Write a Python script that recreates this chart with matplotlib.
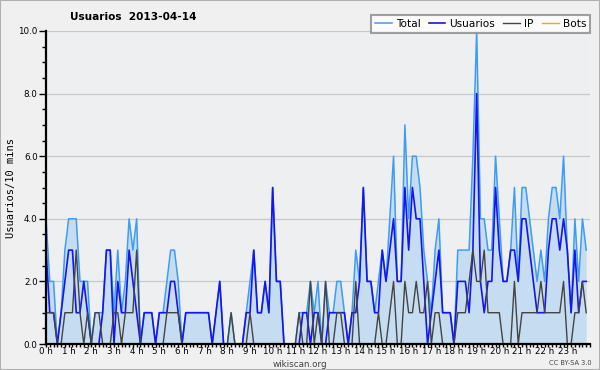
import matplotlib
matplotlib.use("Agg")
import matplotlib.pyplot as plt
import numpy as np

hours = [f"{h} h" for h in range(24)]

total = [4, 2, 2, 0, 1, 3, 4, 4, 4, 2, 2, 2, 0, 1, 1, 1, 3, 3, 1, 3, 1, 2, 4, 3,
         4, 0, 1, 1, 1, 0, 1, 1, 2, 3, 3, 2, 0, 1, 1, 1, 1, 1, 1, 1, 0, 1, 2, 0,
         0, 1, 0, 0, 0, 1, 2, 3, 1, 1, 2, 1, 5, 2, 2, 0, 0, 0, 0, 1, 1, 1, 2, 1,
         2, 0, 2, 1, 1, 2, 2, 1, 0, 1, 3, 2, 5, 2, 2, 1, 2, 3, 2, 4, 6, 2, 2, 7,
         4, 6, 6, 5, 3, 2, 1, 3, 4, 1, 1, 1, 0, 3, 3, 3, 3, 6, 10, 4, 4, 3, 3, 6,
         4, 2, 2, 3, 5, 2, 5, 5, 4, 3, 2, 3, 2, 4, 5, 5, 4, 6, 3, 1, 4, 2, 4, 3]
usuarios = [3, 1, 1, 0, 1, 2, 3, 3, 1, 1, 2, 1, 0, 0, 0, 1, 3, 3, 0, 2, 1, 1, 3, 2,
            1, 0, 1, 1, 1, 0, 1, 1, 1, 2, 2, 1, 0, 1, 1, 1, 1, 1, 1, 1, 0, 1, 2, 0,
            0, 0, 0, 0, 0, 1, 1, 3, 1, 1, 2, 1, 5, 2, 2, 0, 0, 0, 0, 0, 1, 1, 0, 1,
            1, 0, 0, 1, 1, 1, 1, 1, 0, 1, 1, 2, 5, 2, 2, 1, 1, 3, 2, 3, 4, 2, 2, 5,
            3, 5, 4, 4, 2, 0, 1, 2, 3, 1, 1, 1, 0, 2, 2, 2, 1, 3, 8, 2, 1, 2, 2, 5,
            3, 2, 2, 3, 3, 2, 4, 4, 3, 2, 1, 1, 1, 3, 4, 4, 3, 4, 3, 1, 3, 1, 2, 2]
ip = [1, 1, 1, 0, 0, 1, 1, 1, 3, 1, 0, 1, 0, 1, 1, 0, 0, 0, 1, 1, 0, 1, 1, 1,
      3, 0, 0, 0, 0, 0, 0, 0, 1, 1, 1, 1, 0, 0, 0, 0, 0, 0, 0, 0, 0, 0, 0, 0,
      0, 1, 0, 0, 0, 0, 1, 0, 0, 0, 0, 0, 0, 0, 0, 0, 0, 0, 0, 1, 0, 0, 2, 0,
      1, 0, 2, 0, 0, 1, 1, 0, 0, 0, 2, 0, 0, 0, 0, 0, 1, 0, 0, 1, 2, 0, 0, 2,
      1, 1, 2, 1, 1, 2, 0, 1, 1, 0, 0, 0, 0, 1, 1, 1, 2, 3, 2, 2, 3, 1, 1, 1,
      1, 0, 0, 0, 2, 0, 1, 1, 1, 1, 1, 2, 1, 1, 1, 1, 1, 2, 0, 0, 1, 1, 2, 1]
bots = [0] * 144

x = np.arange(len(total))

fig = plt.figure(figsize=(6.0, 3.7), dpi=100, facecolor="#f0f0f0")
ax = fig.add_axes([46/600, 1-344/370, 544/600, 313/370])
ax.set_facecolor("#eeeff1")

ax.fill_between(x, total, 0, color="#c6dcf0", lw=0, zorder=1)
ax.plot(x, total, color="#3d9cf5", lw=1.1, label="Total", zorder=3)
ax.plot(x, usuarios, color="#1515f0", lw=1.2, label="Usuarios", zorder=4)
ax.plot(x, ip, color="#444444", lw=1.0, label="IP", zorder=5)
ax.plot(x, bots, color="#ffa01a", lw=1.0, label="Bots", zorder=2)

ax.set_xlim(0, 144)
ax.set_ylim(0, 10)
ax.set_yticks(np.arange(0, 10.1, 2))
ax.set_yticklabels([f"{v:.1f}" for v in np.arange(0, 10.1, 2)])
ax.set_yticks(np.arange(0, 10.01, 0.5), minor=True)
ax.set_xticks(np.arange(0, 144, 6))
ax.set_xticklabels(hours)
ax.set_xticks(np.arange(0, 145, 1), minor=True)
ax.grid(axis="y", which="major", color="#c8c8c8", lw=0.9, zorder=0)
ax.set_axisbelow(True)

for s in ("top", "right"):
    ax.spines[s].set_visible(False)
for s in ("left", "bottom"):
    ax.spines[s].set_linewidth(1.6)
    ax.spines[s].set_color("black")
    ax.spines[s].set_zorder(6)

ax.tick_params(axis="y", which="major", length=5, width=1, labelsize=6.3, pad=1)
ax.tick_params(axis="y", which="minor", length=3, width=1)
ax.tick_params(axis="x", which="major", length=2.5, width=1, labelsize=6.3, pad=0)
ax.tick_params(axis="x", which="minor", length=2.5, width=1)

ax.set_ylabel("Usuarios/10 mins", family="DejaVu Sans Mono", fontsize=7.5, labelpad=2)
fig.text(0.222, 0.955, "Usuarios  2013-04-14", fontsize=7.6, fontweight="bold", ha="center", va="center")
fig.text(0.5, 0.014, "wikiscan.org", fontsize=6.3, color="#444444", ha="center", va="center")
fig.text(0.95, 0.020, "CC BY-SA 3.0", fontsize=4.8, color="#444444", ha="center", va="center")

leg = ax.legend(loc="upper right", bbox_to_anchor=(1.0, 1.05), ncol=4, fontsize=7.6,
                frameon=True, fancybox=False, shadow=False, borderpad=0.35,
                handlelength=1.6, handletextpad=0.4, columnspacing=0.75, borderaxespad=0)
leg.get_frame().set_edgecolor("#888888")
leg.get_frame().set_linewidth(1.5)
leg.get_frame().set_facecolor("white")
leg.set_zorder(10)

fig.patches.append(matplotlib.patches.Rectangle((0, 0), 1, 1, transform=fig.transFigure,
                   fill=False, edgecolor="#b0b0b0", lw=1.5))

fig.savefig("out.png", dpi=100, facecolor=fig.get_facecolor())
